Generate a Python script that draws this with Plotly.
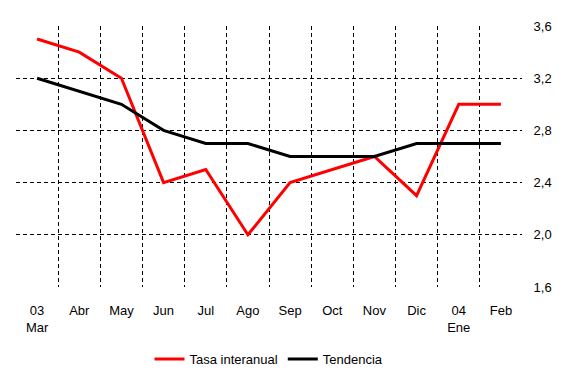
import plotly.graph_objects as go

categories = ["03<br>Mar", "Abr", "May", "Jun", "Jul", "Ago", "Sep", "Oct", "Nov", "Dic", "04<br>Ene", "Feb"]
tasa = [3.5, 3.4, 3.2, 2.4, 2.5, 2.0, 2.4, 2.5, 2.6, 2.3, 3.0, 3.0]
tendencia = [3.2, 3.1, 3.0, 2.8, 2.7, 2.7, 2.6, 2.6, 2.6, 2.7, 2.7, 2.7]
y_ticks = [1.6, 2.0, 2.4, 2.8, 3.2, 3.6]
y_ticktext = ["1,6", "2,0", "2,4", "2,8", "3,2", "3,6"]

x = list(range(len(categories)))

fig = go.Figure()
fig.add_trace(go.Scatter(x=x, y=tasa, mode="lines", name="Tasa interanual",
                         line=dict(color="#FF0000", width=3)))
fig.add_trace(go.Scatter(x=x, y=tendencia, mode="lines", name="Tendencia",
                         line=dict(color="#000000", width=3)))

# page body has an 8px default margin on every side; compensate so page is 566x375
fig.update_layout(
    width=550, height=359,
    margin=dict(l=8, r=36, t=18, b=80, pad=0, autoexpand=False),
    paper_bgcolor="white", plot_bgcolor="white",
    font=dict(family="Liberation Sans, Arial, sans-serif", size=13, color="black"),
    showlegend=True,
    legend=dict(orientation="h", x=0.5, xanchor="center", xref="paper",
                y=0.022, yanchor="middle", yref="container",
                font=dict(size=13), itemwidth=30, tracegroupgap=0),
)
fig.update_xaxes(
    range=[-0.5, len(categories) - 0.5],
    tickvals=x, ticktext=categories, automargin=False,
    showgrid=False, zeroline=False, showline=False,
    ticks="outside", ticklen=11, tickcolor="rgba(0,0,0,0)",
    minor=dict(tickvals=[i + 0.5 for i in range(len(categories) - 1)],
               showgrid=True, gridcolor="black", gridwidth=1, griddash="4px,3px", ticks=""),
    fixedrange=True,
)
fig.update_yaxes(
    range=[1.6, 3.6], side="right", automargin=False,
    tickvals=y_ticks, ticktext=y_ticktext,
    showgrid=False, zeroline=False, showline=False,
    ticks="outside", ticklen=8, tickcolor="rgba(0,0,0,0)",
    minor=dict(tickvals=y_ticks[1:-1], showgrid=True, gridcolor="black",
               gridwidth=1, griddash="4px,3px", ticks=""),
    fixedrange=True,
)

fig.write_html("out.html")
